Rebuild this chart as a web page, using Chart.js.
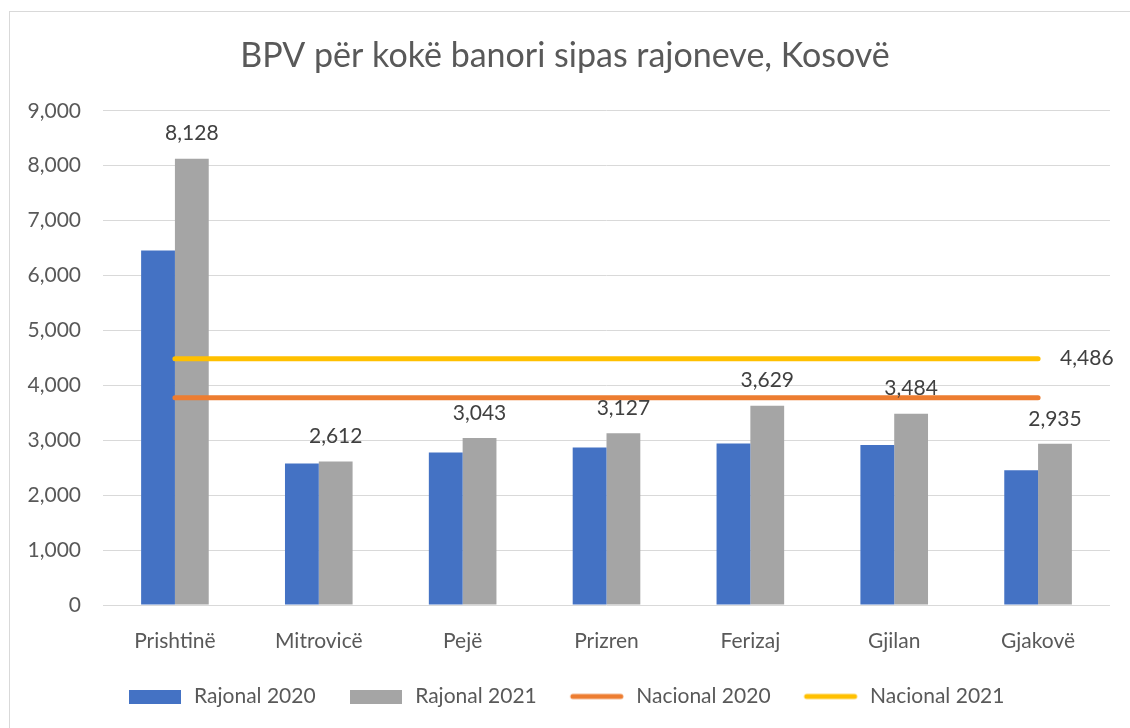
<!DOCTYPE html>
<html>
<head>
<meta charset="utf-8">
<script src="https://cdn.jsdelivr.net/npm/chart.js@4.4.1/dist/chart.umd.min.js"></script>
<style>
  html, body { margin: 0; padding: 0; background: #ffffff; }
  #wrap { width: 1130px; height: 728px; position: relative; }
</style>
</head>
<body>
<div id="wrap"><canvas id="bpvChart"></canvas></div>
<script>
// Të dhënat e grafikut
const rajonet = ['Prishtinë', 'Mitrovicë', 'Pejë', 'Prizren', 'Ferizaj', 'Gjilan', 'Gjakovë'];
const rajonal2020 = [6455, 2576, 2776, 2867, 2940, 2915, 2455];
const rajonal2021 = [8128, 2612, 3043, 3127, 3629, 3484, 2935];
const nacional2020 = [3775, 3775, 3775, 3775, 3775, 3775, 3775];
const nacional2021 = [4486, 4486, 4486, 4486, 4486, 4486, 4486];
const yTicks = [0, 1000, 2000, 3000, 4000, 5000, 6000, 7000, 8000, 9000];

const FONT = 'Lato';
const TEXT = '#595959';
const fmt = new Intl.NumberFormat('en-US');

// ikonat e legjendës (drejtkëndësh për kolonat, vijë për linjat)
function boxIcon(color) {
    const c = document.createElement('canvas');
    c.width = 52; c.height = 14;
    const g = c.getContext('2d');
    g.fillStyle = color;
    g.fillRect(0, 0, 52, 14);
    return c;
}
function lineIcon(color) {
    const c = document.createElement('canvas');
    c.width = 56; c.height = 8;
    const g = c.getContext('2d');
    g.strokeStyle = color;
    g.lineWidth = 5;
    g.lineCap = 'round';
    g.beginPath();
    g.moveTo(4, 4);
    g.lineTo(52, 4);
    g.stroke();
    return c;
}
const icons = [boxIcon('#4472C4'), boxIcon('#A5A5A5'), lineIcon('#ED7D31'), lineIcon('#FFC000')];

// korniza e lehtë rreth grafikut
const frame = {
    id: 'frame',
    beforeDraw(chart) {
        const ctx = chart.ctx;
        ctx.save();
        ctx.strokeStyle = '#d9d9d9';
        ctx.lineWidth = 1;
        ctx.strokeRect(9.5, 11.5, 1300, 900);
        ctx.restore();
    }
};

// etiketat e vlerave mbi kolonat 2021 dhe në fund të linjës 2021
const valueLabels = {
    id: 'valueLabels',
    afterDatasetsDraw(chart) {
        const ctx = chart.ctx;
        ctx.save();
        ctx.font = '21px ' + FONT;
        ctx.fillStyle = '#404040';
        ctx.textBaseline = 'middle';
        ctx.textAlign = 'center';
        chart.getDatasetMeta(1).data.forEach((bar, i) => {
            ctx.fillText(fmt.format(rajonal2021[i]), bar.x, bar.y - 25);
        });
        const pts = chart.getDatasetMeta(3).data;
        const last = pts[pts.length - 1];
        ctx.textAlign = 'left';
        ctx.fillText(fmt.format(nacional2021[nacional2021.length - 1]), last.x + 22, last.y);
        ctx.restore();
    }
};

new Chart(document.getElementById('bpvChart'), {
    type: 'bar',
    data: {
        labels: rajonet,
        datasets: [
            { label: 'Rajonal 2020', data: rajonal2020, backgroundColor: '#4472C4', order: 2 },
            { label: 'Rajonal 2021', data: rajonal2021, backgroundColor: '#A5A5A5', order: 2 },
            { type: 'line', label: 'Nacional 2020', data: nacional2020, borderColor: '#ED7D31', backgroundColor: '#ED7D31',
              borderWidth: 5, borderCapStyle: 'round', pointRadius: 0, order: 1 },
            { type: 'line', label: 'Nacional 2021', data: nacional2021, borderColor: '#FFC000', backgroundColor: '#FFC000',
              borderWidth: 5, borderCapStyle: 'round', pointRadius: 0, order: 1 }
        ]
    },
    options: {
        responsive: true,
        maintainAspectRatio: false,
        animation: false,
        categoryPercentage: 0.47,
        barPercentage: 1,
        layout: { padding: { left: 20, right: 20, top: 0, bottom: 11 } },
        plugins: {
            title: {
                display: true,
                text: 'BPV për kokë banori sipas rajoneve, Kosovë',
                color: TEXT,
                font: { family: FONT, size: 34, weight: 'normal' },
                padding: { top: 36, bottom: 34 }
            },
            legend: {
                position: 'bottom',
                labels: {
                    color: TEXT,
                    font: { family: FONT, size: 21 },
                    usePointStyle: true,
                    pointStyleWidth: 58,
                    boxWidth: 58,
                    boxHeight: 14,
                    padding: 31,
                    sort: (a, b) => a.datasetIndex - b.datasetIndex,
                    generateLabels(chart) {
                        const items = Chart.defaults.plugins.legend.labels.generateLabels(chart);
                        items.forEach(it => { it.pointStyle = icons[it.datasetIndex]; });
                        return items;
                    }
                }
            },
            tooltip: { enabled: false }
        },
        scales: {
            x: {
                grid: { display: false },
                border: { display: false },
                ticks: { color: TEXT, font: { family: FONT, size: 21 }, padding: 16 },
                afterFit(scale) { scale.height = 50; }
            },
            y: {
                min: 0,
                max: 9000,
                afterBuildTicks(scale) { scale.ticks = yTicks.map(v => ({ value: v })); },
                grid: { color: '#d9d9d9', lineWidth: 1, drawTicks: false },
                border: { display: false },
                ticks: {
                    color: TEXT,
                    font: { family: FONT, size: 21 },
                    padding: 22,
                    callback: (v) => fmt.format(v)
                },
                afterFit(scale) { scale.width = 83; }
            }
        }
    },
    plugins: [frame, valueLabels]
});
</script>
</body>
</html>
